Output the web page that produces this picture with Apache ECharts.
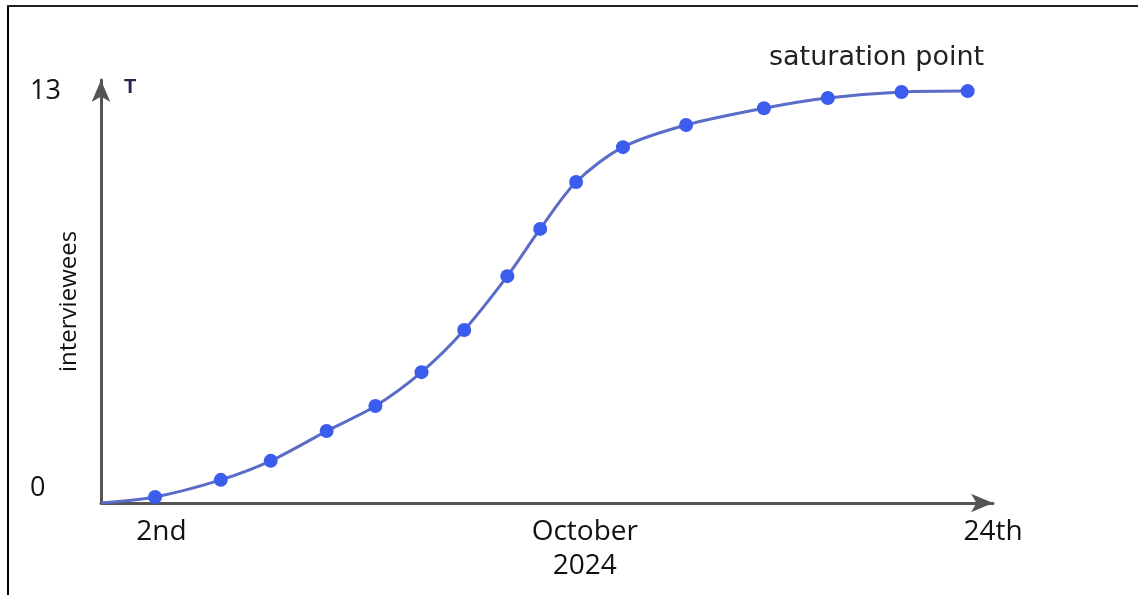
<!DOCTYPE html>
<html>
<head>
    <meta charset="utf-8"/>
    <title>interviewees saturation</title>
    <script src="https://cdn.jsdelivr.net/npm/echarts@6/dist/echarts.min.js"></script>
    <style>
        html, body { margin: 0; padding: 0; background: #fff; }
        #main { width: 1138px; height: 595px; }
    </style>
</head>
<body>
<div id="main"></div>
<script>
    // day of October (x) and number of interviewees (y)
    var days = [0.4, 1.83, 3.57, 4.89, 6.37, 7.66, 8.88, 10.01, 11.15, 12.02, 12.97, 14.21, 15.88, 17.94, 19.63, 21.58, 23.33]
    var interviewees = [0, 0.19, 0.73, 1.33, 2.27, 3.06, 4.13, 5.46, 7.16, 8.65, 10.13, 11.23, 11.93, 12.46, 12.78, 12.97, 13.0]
    var xTicks = [2, 13.2, 24]
    var xTickLabels = ['2nd', 'October\n2024', '24th']
    var yTicks = [0, 13]

    var chart = echarts.init(document.getElementById('main'))

    var points = days.map(function (d, i) {
        var p = { value: [d, interviewees[i]] }
        if (i === 0) p.symbolSize = 0 // line starts at the origin, no dot there
        return p
    })

    chart.setOption({
        animation: false,
        grid: { left: 101, right: 145, top: 80, bottom: 92 },
        xAxis: {
            type: 'value',
            min: 0.4,
            max: 24,
            splitLine: { show: false },
            axisTick: { show: false },
            axisLine: {
                lineStyle: { color: '#555', width: 3 },
                symbol: ['none', 'arrow'],
                symbolSize: [14, 22]
            },
            axisLabel: {
                customValues: xTicks,
                margin: 12,
                fontFamily: 'Open Sans',
                fontSize: 28,
                color: '#111',
                lineHeight: 34,
                formatter: function (v) {
                    var i = xTicks.indexOf(v)
                    return i >= 0 ? xTickLabels[i] : ''
                }
            }
        },
        yAxis: {
            type: 'value',
            min: 0,
            max: 13.35,
            splitLine: { show: false },
            axisTick: { show: false },
            axisLine: {
                lineStyle: { color: '#555', width: 3 },
                symbol: ['none', 'arrow'],
                symbolSize: [14, 22]
            },
            axisLabel: {
                customValues: yTicks,
                margin: 71,
                align: 'left',
                fontFamily: 'Open Sans',
                fontSize: 27,
                color: '#111',
                formatter: function (v) {
                    return v === 0 ? '{zero|0}' : '' + v
                },
                rich: {
                    zero: { fontFamily: 'Open Sans', fontSize: 27, color: '#111', padding: [0, 0, 30, 0] }
                }
            }
        },
        series: [{
            type: 'line',
            data: points,
            smooth: 0.3,
            symbol: 'circle',
            symbolSize: 14,
            lineStyle: { color: '#5a6bc8', width: 3 },
            itemStyle: { color: '#3c5cee' }
        }],
        graphic: [
            // picture frame (left and top edges)
            { type: 'line', shape: { x1: 8, y1: 6, x2: 8, y2: 595 }, style: { stroke: '#000', lineWidth: 2 } },
            { type: 'line', shape: { x1: 7, y1: 6, x2: 1138, y2: 6 }, style: { stroke: '#222', lineWidth: 2 } },
            {
                type: 'text', x: 124, y: 77,
                style: { text: 'T', fontSize: 20, fontWeight: 'bold', fontFamily: 'Liberation Sans', fill: '#2a2550' }
            },
            {
                type: 'text', x: 57, y: 372, rotation: Math.PI / 2,
                style: { text: 'interviewees', fontSize: 24, fontFamily: 'Open Sans', fill: '#111' }
            },
            {
                type: 'text', x: 769, y: 44,
                style: { text: 'saturation point', fontSize: 27, fontFamily: 'DejaVu Sans', fill: '#222' }
            }
        ]
    })
</script>
</body>
</html>
